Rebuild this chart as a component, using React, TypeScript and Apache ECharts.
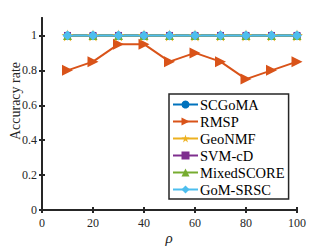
import React, { useEffect, useRef } from "react";
import * as echarts from "echarts";

const rho = [10, 20, 30, 40, 50, 60, 70, 80, 90, 100];
const scgoma = [1, 1, 1, 1, 1, 1, 1, 1, 1, 1];
const rmsp = [0.8, 0.85, 0.95, 0.95, 0.85, 0.9, 0.85, 0.75, 0.8, 0.85];
const geonmf = [1, 1, 1, 1, 1, 1, 1, 1, 1, 1];
const svmcd = [1, 1, 1, 1, 1, 1, 1, 1, 1, 1];
const mixedscore = [1, 1, 1, 1, 1, 1, 1, 1, 1, 1];
const gomsrsc = [1, 1, 1, 1, 1, 1, 1, 1, 1, 1];
const xTicks = [0, 20, 40, 60, 80, 100];
const yTicks = [0, 0.2, 0.4, 0.6, 0.8, 1];

const FONT = "'Liberation Serif', 'Times New Roman', serif";
const STAR =
  "path://M50,0 L61.8,35.4 L100,35.4 L69.1,57.3 L80.9,92.7 L50,70.8 L19.1,92.7 L30.9,57.3 L0,35.4 L38.2,35.4 Z";
const RTRI = "path://M0,0 L10,5 L0,10 Z";

export default function App() {
  const ref = useRef<HTMLDivElement>(null);
  useEffect(() => {
    const chart = echarts.init(ref.current!, null, { renderer: "svg" });
    const mk = (name: string, data: number[], color: string, symbol: string, size: number) => ({
      name,
      type: "line",
      data: data.map((v, i) => [rho[i], v]),
      symbol,
      symbolSize: size,
      lineStyle: { color, width: 2 },
      itemStyle: { color },
      color,
    });
    const axisLine = { show: true, lineStyle: { color: "#262626", width: 2 } };
    const tick = { show: true, inside: true, length: 3, lineStyle: { color: "#262626", width: 2 } };
    chart.setOption({
      animation: false,
      backgroundColor: "#fff",
      grid: { left: 42, right: 32, top: 18, bottom: 37, containLabel: false, outerBoundsMode: "none" },
      xAxis: [
        {
          type: "value",
          min: 0,
          max: 100,
          interval: 20,
          axisLine,
          axisTick: tick,
          axisLabel: { fontFamily: FONT, fontSize: 12, color: "#262626", margin: 7, customValues: xTicks },
          splitLine: { show: false },
        },
        {
          type: "value",
          position: "top",
          min: 0,
          max: 100,
          interval: 20,
          axisLine,
          axisTick: tick,
          axisLabel: { show: false },
          splitLine: { show: false },
        },
      ],
      yAxis: [
        {
          type: "value",
          min: 0,
          max: 1.1,
          axisLine,
          axisTick: { ...tick, customValues: yTicks },
          axisLabel: {
            fontFamily: FONT,
            fontSize: 12,
            color: "#262626",
            margin: 5,
            customValues: yTicks,
            formatter: (v: number) => String(Math.round(v * 10) / 10),
          },
          splitLine: { show: false },
        },
        {
          type: "value",
          position: "right",
          min: 0,
          max: 1.1,
          axisLine,
          axisTick: { ...tick, customValues: yTicks },
          axisLabel: { show: false },
          splitLine: { show: false },
        },
      ],
      legend: {
        orient: "vertical",
        left: 169,
        top: 94,
        padding: [3, 4, 2, 3],
        itemGap: 2,
        itemWidth: 25,
        itemHeight: 10,
        borderColor: "#262626",
        borderWidth: 1.5,
        backgroundColor: "#fff",
        textStyle: { fontFamily: FONT, fontSize: 14.5, color: "#000", padding: [0, 0, 0, -3] },
        data: ["SCGoMA", "RMSP", "GeoNMF", "SVM-cD", "MixedSCORE", "GoM-SRSC"],
      },
      graphic: [
        {
          type: "text",
          x: 15,
          y: 101,
          rotation: Math.PI / 2,
          style: {
            text: "Accuracy rate",
            fontFamily: FONT,
            fontSize: 14,
            fill: "#262626",
            align: "center",
            verticalAlign: "middle",
          },
        },
        {
          type: "text",
          x: 169,
          y: 238,
          style: {
            text: "ρ",
            fontFamily: FONT,
            fontSize: 15,
            fontStyle: "italic",
            fill: "#262626",
            align: "center",
            verticalAlign: "middle",
          },
        },
      ],
      series: [
        mk("SCGoMA", scgoma, "#0072BD", "circle", 8),
        mk("RMSP", rmsp, "#D95319", RTRI, 11),
        mk("GeoNMF", geonmf, "#EDB120", STAR, 12),
        mk("SVM-cD", svmcd, "#7E2F8E", "rect", 7),
        mk("MixedSCORE", mixedscore, "#77AC30", "triangle", 9),
        mk("GoM-SRSC", gomsrsc, "#4DBEEE", "diamond", 10),
      ],
    });
    return () => chart.dispose();
  }, []);
  return <div ref={ref} style={{ width: 329, height: 247, position: "absolute", left: 0, top: 0 }} />;
}
